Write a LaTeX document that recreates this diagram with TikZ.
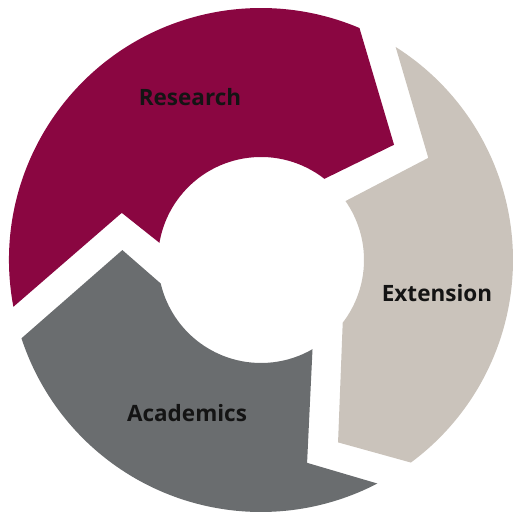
\documentclass[tikz,border=0pt]{standalone}
\usepackage{fontspec}
\setmainfont{Open Sans}
\definecolor{researchred}{HTML}{8A0641}
\definecolor{extensiontan}{HTML}{CAC3BB}
\definecolor{academicsgray}{HTML}{6A6D6F}
\begin{document}
\begin{tikzpicture}[x=1pt,y=1pt,word/.style={font=\bfseries\fontsize{22.5}{27}\selectfont,text=black!92}]
\useasboundingbox (0,0) rectangle (513,516);
\begin{scope}[shift={(261,256)}]
\fill[researchred] (190.7:252) arc[start angle=190.7,end angle=67,radius=252] -- (40.9:176) -- (52:103) arc[start angle=52,end angle=170.4,radius=103] -- (161.3:147) -- cycle;
\fill[extensiontan] (57.7:252) arc[start angle=57.7,end angle=-53.5,radius=252] -- (-67.1:198) -- (-37.5:103) arc[start angle=-37.5,end angle=34.9,radius=103] -- (31.4:196) -- cycle;
\fill[academicsgray] (-62.5:252) arc[start angle=-62.5,end angle=-161.9,radius=252] -- (-184.1:139) -- (-166.8:103) arc[start angle=-166.8,end angle=-60,radius=103] -- (-77.2:208) -- cycle;
\end{scope}
\node[word] (research) at (190,419) {Research};
\node[word] (extension) at (437,223) {Extension};
\node[word] (academics) at (187,103) {Academics};
\end{tikzpicture}
\end{document}
